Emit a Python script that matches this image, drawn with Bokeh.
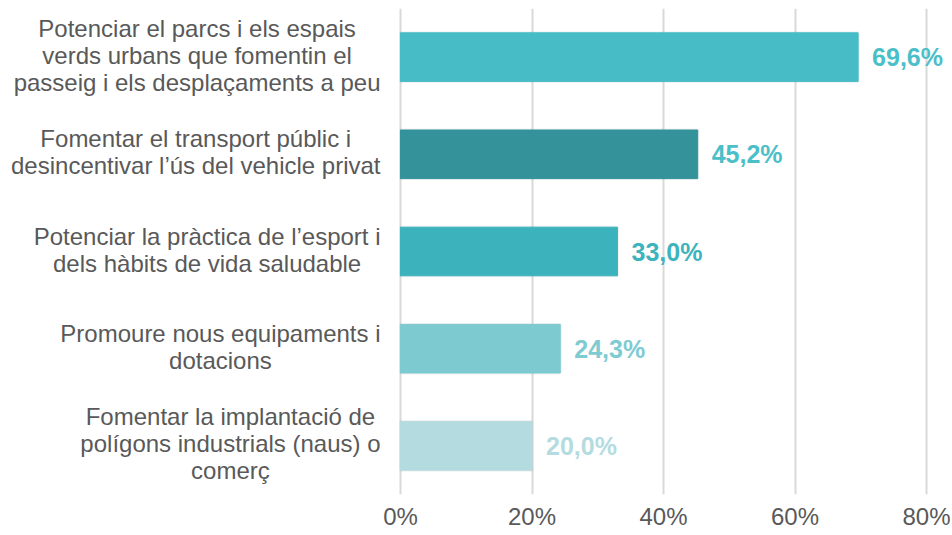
from bokeh.plotting import figure
from bokeh.models import ColumnDataSource, FixedTicker, CustomJSTickFormatter, Range1d
from bokeh.core.properties import value
from bokeh.embed import file_html
from bokeh.resources import INLINE

categories = [
    "Potenciar el parcs i els espais\nverds urbans que fomentin el\npasseig i els desplaçaments a peu",
    "Fomentar el transport públic i\ndesincentivar l’ús del vehicle privat",
    "Potenciar la pràctica de l’esport i\ndels hàbits de vida saludable",
    "Promoure nous equipaments i\ndotacions",
    "Fomentar la implantació de\npolígons industrials (naus) o\ncomerç",
]
values = [69.6, 45.2, 33.0, 24.3, 20.0]
value_labels = ["69,6%", "45,2%", "33,0%", "24,3%", "20,0%"]
bar_colors = ["#47BCC6", "#33929A", "#3CB3BC", "#7DCAD1", "#B4DCE0"]
label_colors = ["#4BBFC8", "#4BBFC8", "#3DB4BD", "#7ECBD2", "#B4DCE0"]
x_ticks = [0, 20, 40, 60, 80]

# approximate Arial / Liberation Sans advance widths (per 1000 em) to centre wrapped lines
W = dict(zip("abcdefghijklmnopqrstuvwxyz",
             [556, 556, 500, 556, 556, 278, 556, 556, 222, 222, 500, 222, 833,
              556, 556, 556, 556, 333, 500, 278, 556, 500, 722, 500, 500, 500]))
W.update({" ": 278, "P": 667, "F": 611, "(": 333, ")": 333, "’": 222,
          "à": 556, "ç": 500, "ó": 556, "í": 278, "ú": 556})
FS = 24
LINE = 27
WIDTH, HEIGHT = 952, 535
ZERO_PX, END_PX = 400, 926           # pixel position of 0% and 80%
RIGHT_EDGE = 380                     # right edge of the category text blocks
TOP, BOTTOM = 8, 494
PPU = (END_PX - ZERO_PX) / (x_ticks[-1] - x_ticks[0])
BAND = (BOTTOM - TOP) / len(categories)


def text_width(s):
    return sum(W.get(ch, 556) for ch in s) * FS / 1000.0


idx = list(range(len(categories)))
src = ColumnDataSource(dict(y=idx, val=values, lab=value_labels,
                            bc=bar_colors, lc=label_colors))

lxo, ly, lt = [], [], []
for i, cat in enumerate(categories):
    lines = cat.split("\n")
    maxw = max(text_width(l) for l in lines)
    n = len(lines)
    for k, l in enumerate(lines):
        lxo.append(RIGHT_EDGE - ZERO_PX - maxw / 2)
        ly.append(i + (k - (n - 1) / 2) * LINE / BAND - 0.02)
        lt.append(l)
lsrc = ColumnDataSource(dict(x=[0] * len(lt), xo=lxo, y=ly, t=lt))

p = figure(width=WIDTH, height=HEIGHT,
           y_range=Range1d(len(categories) - 0.5, -0.5),
           x_range=Range1d(-ZERO_PX / PPU, x_ticks[-1] + (WIDTH - END_PX) / PPU),
           output_backend="svg", toolbar_location=None,
           min_border_left=0, min_border_right=0, min_border_top=TOP,
           min_border_bottom=HEIGHT - BOTTOM)

# soft shadow
p.hbar(y="y", right="val", height=0.5, left=0, source=src,
       color="#000000", fill_alpha=0.05, line_alpha=0.05, line_width=3)
p.hbar(y="y", right="val", height=0.5, left=0, color="bc", source=src)

p.text(x="val", y="y", text="lab", source=src, x_offset=14,
       text_color="lc", text_baseline="middle",
       text_font=value("Liberation Sans"), text_font_size="25px",
       text_font_style="bold")

p.text(x="x", y="y", x_offset="xo", text="t", source=lsrc,
       text_align="center", text_baseline="middle",
       text_font=value("Liberation Sans"), text_font_size=f"{FS}px",
       text_color="#595959")

p.outline_line_color = None
p.ygrid.grid_line_color = None
p.yaxis.visible = False
p.xgrid.grid_line_color = "#D9D9D9"
p.xgrid.grid_line_width = 2
p.xaxis.ticker = FixedTicker(ticks=x_ticks)
p.xaxis.formatter = CustomJSTickFormatter(code="return tick + '%';")
p.xaxis.axis_line_color = None
p.xaxis.major_tick_line_color = None
p.xaxis.minor_tick_line_color = None
p.xaxis.major_tick_out = 0
p.xaxis.major_label_text_color = "#595959"
p.xaxis.major_label_text_font = "Liberation Sans"
p.xaxis.major_label_text_font_size = "24px"
p.xaxis.major_label_standoff = 8

open("out.html", "w").write(file_html(p, INLINE))
